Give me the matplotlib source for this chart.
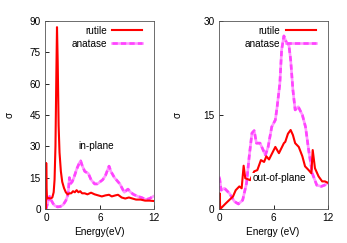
import matplotlib

matplotlib.use("Agg")
import matplotlib.pyplot as plt

plt.rcParams["font.family"] = ["Liberation Sans", "DejaVu Sans"]
plt.rcParams["axes.unicode_minus"] = False

# in-plane
rut_in_e = [0.0, 0.02, 0.05, 0.1, 0.3, 0.5, 0.7, 0.85, 0.95, 1.05, 1.15, 1.22, 1.3,
            1.4, 1.5, 1.65, 1.8, 2.0, 2.2, 2.4, 2.6, 2.8, 3.0, 3.2, 3.4, 3.6, 3.8,
            4.0, 4.3, 4.6, 5.0, 5.4, 5.8, 6.2, 6.6, 7.0, 7.3, 7.7, 8.0, 8.4, 8.8,
            9.2, 9.6, 10.0, 10.5, 11.0, 11.5, 12.0]
rut_in_s = [0, 22, 10, 5, 5.2, 5, 5.5, 8, 14, 30, 65, 87, 70,
            40, 27, 18, 13, 10, 8, 7, 7.5, 7.5, 8.5, 8, 9, 8, 8.5,
            7.5, 7.5, 7, 7.8, 7, 6.5, 6, 6.5, 6.8, 6, 6.5, 6.8, 5.5, 5,
            5.5, 5, 4.5, 4.5, 4, 4, 3.8]
ana_in_e = [0.0, 0.2, 0.4, 0.6, 0.8, 1.0, 1.3, 1.6, 1.9, 2.2, 2.45, 2.6, 2.7, 2.9,
            3.1, 3.4, 3.7, 3.85, 4.0, 4.3, 4.7, 5.0, 5.4, 5.7, 6.0, 6.3, 6.6, 7.0,
            7.2, 7.6, 7.9, 8.2, 8.5, 8.7, 9.1, 9.4, 9.7, 10.2, 10.6, 11.1, 11.5, 11.9, 12.0]
ana_in_s = [0, 3, 6, 4, 2.5, 1.5, 1, 1.2, 2, 4, 7, 15, 12, 13,
            15, 19, 22, 23, 21, 18, 17, 14, 12, 12, 13, 14, 16, 20.5,
            18, 15, 13.5, 12, 9.5, 8, 9.5, 8, 7, 6, 5.5, 4.5, 5, 6, 6.2]

# out-of-plane
rut_out_e = [0.0, 0.02, 0.08, 0.7, 1.5, 1.8, 2.2, 2.46, 2.68, 2.86, 3.4, 3.85, 4.2,
             4.6, 4.95, 5.2, 5.5, 6.2, 6.6, 7.15, 7.3, 7.6, 7.9, 8.15, 8.4, 8.8,
             9.2, 9.5, 9.9, 10.2, 10.35, 10.6, 11.0, 11.4, 11.7, 12.0]
rut_out_s = [0, 2.5, 0, 0.9, 2, 3, 3.6, 3.3, 6.9, 4.9, 4.6, 6, 6.2,
             7.8, 7.5, 8.4, 7.9, 9.9, 8.9, 10.5, 10.7, 12, 12.6, 11.8, 10.5, 9.9,
             8.4, 6.8, 6.2, 5.7, 9.4, 6.5, 5.2, 4.4, 4.4, 4.2]
ana_out_e = [0.0, 0.18, 0.55, 1.1, 1.65, 2.1, 2.57, 3.0, 3.3, 3.6, 3.85, 4.1, 4.5,
             4.85, 5.1, 5.4, 5.8, 6.2, 6.4, 6.7, 6.9, 7.15, 7.45, 7.7, 7.9, 8.15,
             8.4, 8.75, 9.2, 9.55, 9.9, 10.3, 10.8, 11.3, 11.67, 12.0]
ana_out_s = [5, 3, 3.3, 2.5, 1.2, 0.8, 1.4, 4.1, 8.4, 12.1, 12.5, 10.5, 10.5,
             9.4, 8.6, 9.9, 13.1, 14.2, 16.3, 20, 25.4, 27.6, 26.5, 26.2, 23.8, 19,
             15.8, 16.3, 15, 13.1, 9.4, 5.7, 3.8, 3.6, 3.8, 4.1]

panels = [
    (rut_in_e, rut_in_s, ana_in_e, ana_in_s, [0, 15, 30, 45, 60, 75, 90], "Energy(eV)",
     "in-plane", (5.6, 30)),
    (rut_out_e, rut_out_s, ana_out_e, ana_out_s, [0, 15, 30], "Energy (eV)",
     "out-of-plane", (6.6, 4.9)),
]

RED = "#ff0000"
PINK = "#ff99ff"
MAGENTA = "#ff44ff"
FS = 7.2

fig = plt.figure(figsize=(3.47, 2.43), dpi=100)
lefts = [0.130, 0.630]

for left, (re, rs, ae, as_, yticks, xlabel, label, pos) in zip(lefts, panels):
    ax = fig.add_axes([left, 0.140, 0.314, 0.774])
    a1, = ax.plot(ae, as_, color=PINK, lw=1.9, solid_joinstyle="round")
    a2, = ax.plot(ae, as_, color=MAGENTA, lw=1.9, dashes=(2, 1.2))
    r, = ax.plot(re, rs, color=RED, lw=1.5)
    ax.set_xlim(-0.1, 12)
    ax.set_ylim(0, yticks[-1])
    ax.set_xticks([0, 6, 12])
    ax.set_yticks(yticks)
    ax.tick_params(direction="in", length=3, width=0.6, labelsize=FS, pad=3)
    for sp in ax.spines.values():
        sp.set_linewidth(0.6)
        sp.set_color("#555555")
    ax.set_xlabel(xlabel, fontsize=FS, labelpad=3)
    ax.set_ylabel("σ", fontsize=FS, labelpad=11 if left < 0.5 else 15)
    t = ax.text(pos[0], pos[1], label, fontsize=FS, ha="center", va="center")
    if label == "out-of-plane":
        t.set_bbox(dict(facecolor="white", edgecolor="none", pad=0.5))
    ax.legend([r, (a1, a2)], ["rutile", "anatase"], loc="upper right",
              bbox_to_anchor=(0.89, 0.975), frameon=False, fontsize=FS,
              markerfirst=False, handlelength=3.0, handletextpad=0.5,
              borderaxespad=0, borderpad=0, labelspacing=0.3)

fig.savefig("out.png", dpi=100)
